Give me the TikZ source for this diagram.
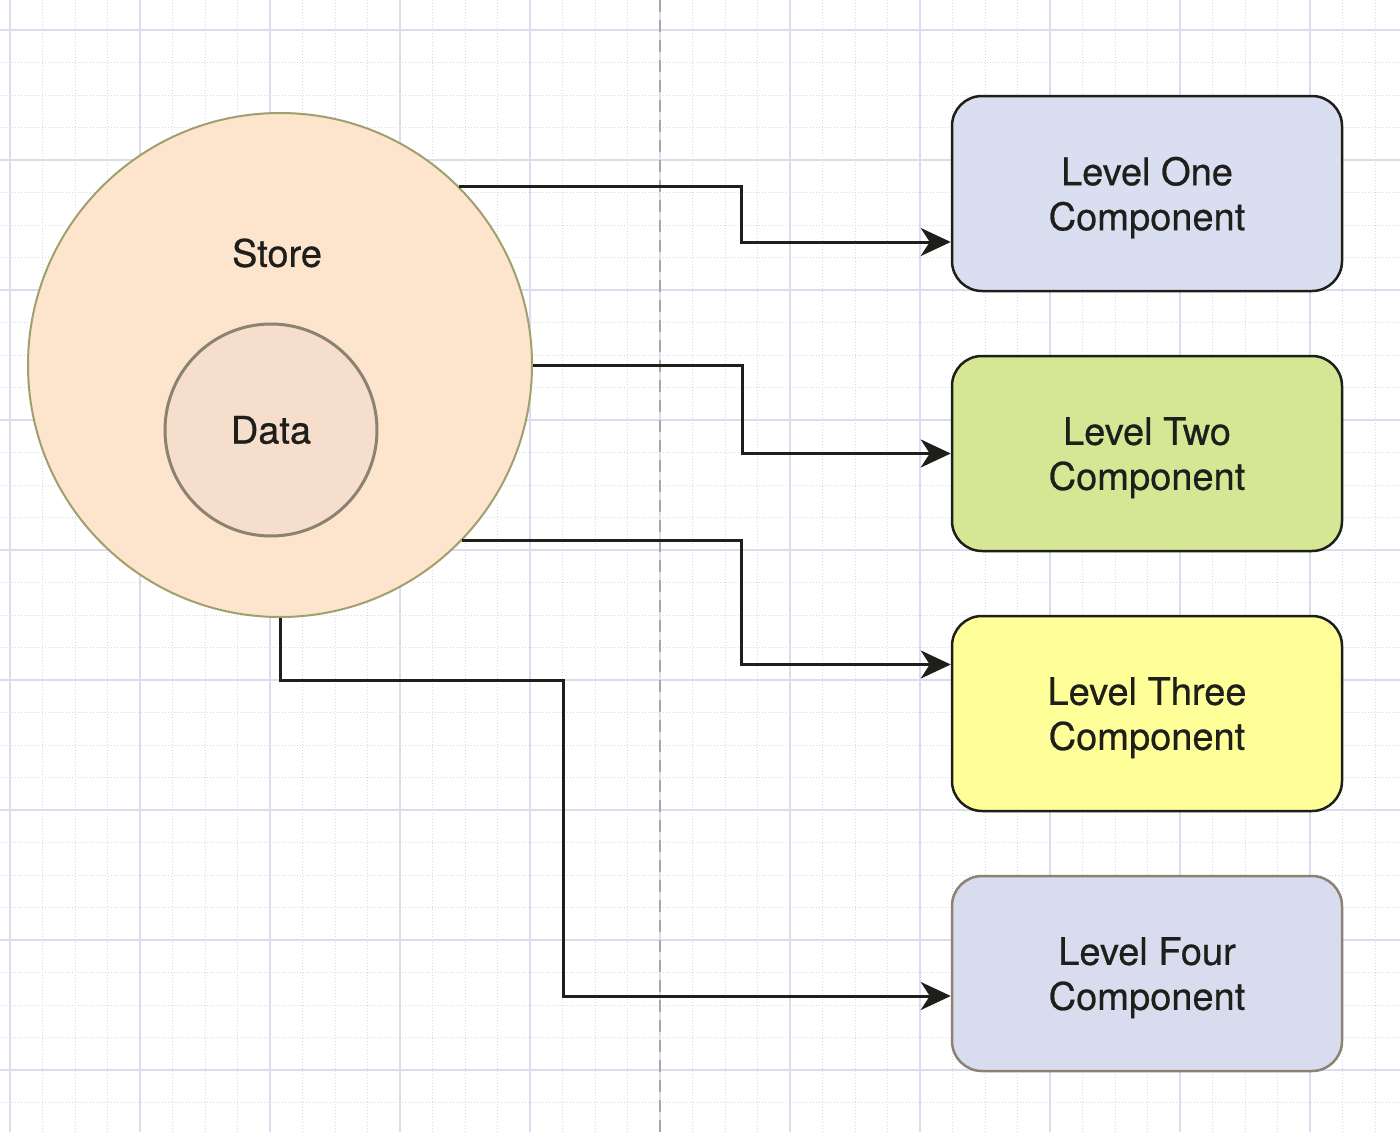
\documentclass[tikz,border=0pt]{standalone}
\usepackage{fontspec}
\setmainfont{TeX Gyre Heros}[FakeBold=0.6]
\usetikzlibrary{arrows.meta,positioning}
\definecolor{gridmajor}{RGB}{218,221,238}
\definecolor{gridminor}{RGB}{214,216,234}
\definecolor{storefill}{RGB}{252,228,205}
\definecolor{storeline}{RGB}{160,160,110}
\definecolor{datafill}{RGB}{246,222,204}
\definecolor{dataline}{RGB}{140,130,114}
\definecolor{onefill}{RGB}{217,223,240}
\definecolor{twofill}{RGB}{213,231,148}
\definecolor{threefill}{RGB}{255,255,153}
\definecolor{fourfill}{RGB}{216,220,238}
\definecolor{wire}{RGB}{30,30,26}
\tikzstyle{every node}+=[font=\fontsize{38}{45}\selectfont,text=wire]
\tikzstyle{major}=[gridmajor,line width=1.2pt]
\tikzstyle{minor}=[gridminor,line width=1pt,dotted]
\tikzstyle{level}=[draw=wire,line width=2.5pt,rounded corners=30pt,minimum width=390pt,minimum height=195pt,align=center,text depth=0pt,node distance=260pt]
\tikzstyle{conn}=[-{Stealth[length=30pt,width=28pt,inset=9pt]},line width=3pt,draw=wire]

\begin{document}
\begin{tikzpicture}[x=1pt,y=-1pt]
\useasboundingbox[fill=white] (0,0) rectangle (1400,1132);

% background grid
\foreach \i in {0,...,42} \draw[minor] ({10+32.5*\i},0) -- ++(0,1132);
\foreach \i in {0,...,33} \draw[minor] (0,{30+32.5*\i}) -- ++(1400,0);
\foreach \i in {0,...,10} \draw[major] ({10+130*\i},0) -- ++(0,1132);
\foreach \i in {0,...,8} \draw[major] (0,{30+130*\i}) -- ++(1400,0);
\draw[gray!70,line width=2pt,dash pattern=on 12pt off 8pt] (660,0) -- (660,1132);

\node[circle,fill=storefill,draw=storeline,line width=2pt,minimum size=504pt,inner sep=0] (s) at (280,365) {};
\node at (277,253) {Store};
\node[circle,fill=datafill,draw=dataline,line width=3pt,minimum size=212pt,inner sep=0] (d) at (271,430) {Data};

\node[level,fill=onefill] (1) at (1147,193.5) {Level One\\Component};
\node[level,fill=twofill,below of=1] (2) {Level Two\\Component};
\node[level,fill=threefill,below of=2] (3) {Level Three\\Component};
\node[level,fill=fourfill,draw=dataline,below of=3] (4) {Level Four\\Component};

\draw[conn] (s.45) -- ++(283,0) |- ([yshift=-48.5pt]1.west);
\draw[conn] (s.east) -- ++(209,0) |- (2.west);
\draw[conn] (s.-44) -- ++(280,0) |- ([yshift=49pt]3.west);
\draw[conn] (s.south) |- (563,680) |- ([yshift=-22.5pt]4.west);
\end{tikzpicture}
\end{document}
